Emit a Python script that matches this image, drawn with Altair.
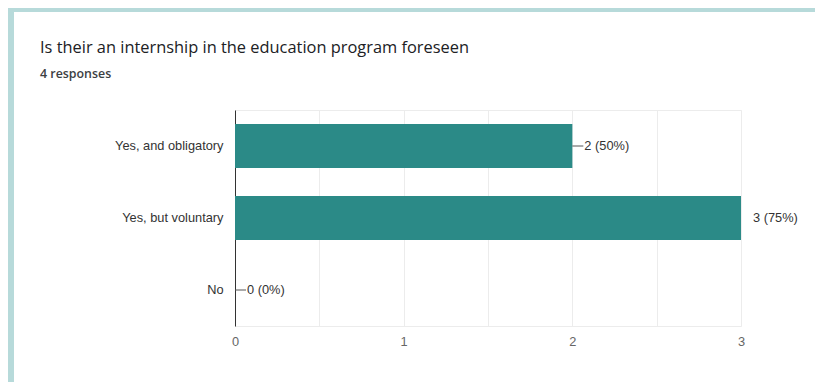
import altair as alt
import pandas as pd

title_text = "Is their an internship in the education program foreseen"
subtitle_text = "4 responses"
categories = ["Yes, and obligatory", "Yes, but voluntary", "No"]
counts = [2, 3, 0]
labels = ["2 (50%)", "3 (75%)", "0 (0%)"]
leader = [True, False, True]
x_ticks = [0, 0.5, 1, 1.5, 2, 2.5, 3]

df = pd.DataFrame({"cat": categories, "count": counts, "label": labels, "leader": leader})

W, H = 506, 216
PL, PT, PR, PB = 227, 102, 74, 56
FONT = "Liberation Sans"
FS = 12.8
TEAL = "#b7dada"

x_scale = alt.Scale(domain=[0, 3], nice=False, zero=True)
y_scale = alt.Scale(domain=categories, paddingInner=0.39, paddingOuter=0.195)

one = pd.DataFrame({"a": [0]})
band_top = alt.Chart(one).mark_rect(color=TEAL).encode(
    x=alt.value(-PL), x2=alt.value(W + PR), y=alt.value(-PT), y2=alt.value(-PT + 4)
)
band_left = alt.Chart(one).mark_rect(color=TEAL).encode(
    x=alt.value(-PL), x2=alt.value(-PL + 6), y=alt.value(-PT), y2=alt.value(H + PB)
)

title = alt.Chart(pd.DataFrame({"t": [title_text]})).mark_text(
    align="left", baseline="alphabetic", font="Open Sans", fontSize=16.4, color="#202124"
).encode(text="t:N", x=alt.value(-195), y=alt.value(-57))

subtitle = alt.Chart(pd.DataFrame({"t": [subtitle_text]})).mark_text(
    align="left", baseline="alphabetic", font="Open Sans", fontSize=12.4, fontWeight=600, color="#3c4043"
).encode(text="t:N", x=alt.value(-195), y=alt.value(-32))

base = alt.Chart(df)

bars = base.mark_bar(color="#2b8a87").encode(
    x=alt.X("count:Q", scale=x_scale,
            axis=alt.Axis(values=x_ticks, title=None, domain=False, ticks=False,
                          grid=True, gridColor="#ececec", labelFont=FONT, labelFontSize=FS,
                          labelColor="#666", labelPadding=9, labelFlush=False,
                          labelExpr="datum.value % 1 == 0 ? format(datum.value, 'd') : ''")),
    y=alt.Y("cat:N", scale=y_scale, sort=categories,
            axis=alt.Axis(title=None, domain=True, domainColor="#333", ticks=False,
                          grid=False, labelFont=FONT, labelFontSize=FS, labelColor="#333",
                          labelPadding=12)),
)

rules = base.transform_filter("datum.leader").mark_rule(
    color="#555", strokeWidth=1, x2Offset=11
).encode(
    x=alt.X("count:Q", scale=x_scale), x2="count:Q",
    y=alt.Y("cat:N", scale=y_scale, sort=categories),
)

text = base.mark_text(
    align="left", baseline="middle", dx=12, font=FONT, fontSize=FS, color="#333"
).encode(
    x=alt.X("count:Q", scale=x_scale),
    y=alt.Y("cat:N", scale=y_scale, sort=categories),
    text="label:N",
)

chart = alt.layer(band_top, band_left, bars, rules, text, title, subtitle).properties(
    width=W, height=H,
    autosize=alt.AutoSizeParams(type="none"),
    padding={"left": PL, "top": PT, "right": PR, "bottom": PB},
    background="white",
).configure_view(stroke="#ececec")

chart.save("out.html", embed_options={"renderer": "svg", "actions": False})
